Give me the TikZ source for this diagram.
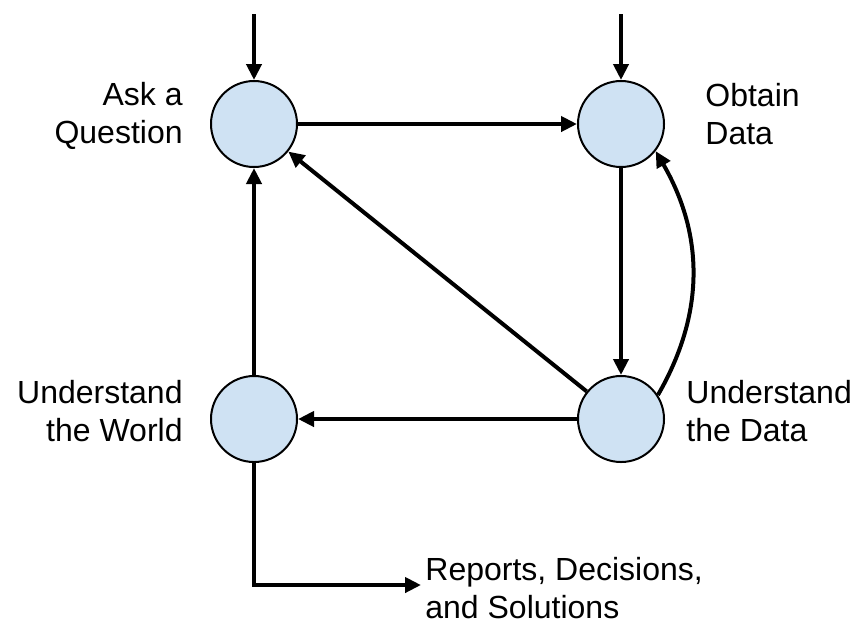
\documentclass[tikz,border=0pt]{standalone}
\usepackage{fontspec}
\setmainfont{Liberation Sans}
\usetikzlibrary{arrows.meta}
\definecolor{stagefill}{HTML}{CFE2F3}
\tikzset{
  stage/.style={circle,draw,line width=1pt,fill=stagefill,minimum size=43pt,inner sep=0pt},
  flow/.style={line width=2pt,-{Triangle[length=8pt,width=7.5pt]}},
  lbl/.style={font=\fontsize{16}{19}\selectfont,inner sep=0pt}
}
\begin{document}
\begin{tikzpicture}[x=0.5pt,y=-0.5pt]
\useasboundingbox (0,0) rectangle (860,628);
% stages
\node[stage] (ask) at (254,124) {};
\node[stage] (obtain) at (621,124) {};
\node[stage] (world) at (254,419) {};
\node[stage] (data) at (621,419) {};
% labels
\node[lbl,anchor=east,align=right] (askl) at (183,116) {Ask a\\Question};
\node[lbl,anchor=west,align=left] (obtainl) at (705,114) {Obtain\\Data};
\node[lbl,anchor=east,align=right] (worldl) at (183,411) {Understand\\the World};
\node[lbl,anchor=west,align=left] (datal) at (686,411) {Understand\\the Data};
\node[lbl,anchor=west,align=left] (reports) at (425,588) {Reports, Decisions,\\and Solutions};
\coordinate (askin) at (254,14);
\coordinate (obtainin) at (621,14);
\coordinate (corner) at (254,585);
% arrows
\draw[flow] (askin) -- (ask);
\draw[flow] (obtainin) -- (obtain);
\draw[flow] (ask) -- (obtain);
\draw[flow] (obtain) -- (data);
\draw[flow] (data) -- (ask);
\draw[flow] (data.33) to[out=60,in=-60] (obtain.-38);
\draw[flow] (data) -- (world);
\draw[flow] (world) -- (ask);
\draw[flow] (world) -- (corner) -- ([xshift=-2pt]reports.west |- corner);
\end{tikzpicture}
\end{document}
